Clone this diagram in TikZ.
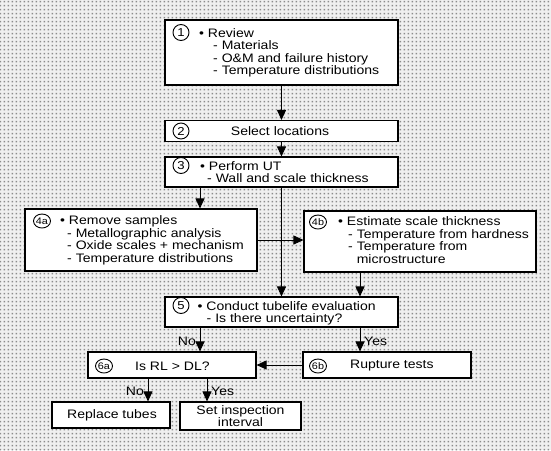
\documentclass[tikz,border=0pt]{standalone}
\usepackage{fontspec}
\setmainfont{Liberation Sans}[FakeStretch=1.14]
\usetikzlibrary{arrows.meta,shapes.geometric,patterns.meta}
\tikzdeclarepattern{
  name=halftone,
  bottom left={(0pt,0pt)},
  top right={(4pt,4pt)},
  tile size={(4pt,4pt)},
  code={\fill (0.8pt,0.8pt) rectangle (2.6pt,2.6pt);}
}
\begin{document}
\begin{tikzpicture}[x=1pt,y=-1pt,
  box/.style={draw, line width=1.1pt, fill=white, inner sep=0pt},
  num/.style={draw, circle, line width=0.9pt, inner sep=0pt, minimum size=16pt, font=\fontsize{11.5}{11.5}\selectfont},
  numov/.style={draw, ellipse, line width=0.9pt, inner sep=0pt, minimum width=17pt, minimum height=14pt, font=\fontsize{9.5}{9.5}\selectfont},
  txt/.style={align=left, inner sep=0pt, anchor=north west, font=\fontsize{12.3}{12.6}\selectfont},
  ctxt/.style={align=center, inner sep=0pt, font=\fontsize{12.3}{12.6}\selectfont},
  arr/.style={line width=0.9pt, -{Triangle[length=10pt,width=9pt]}},
  lab/.style={inner sep=1pt, font=\fontsize{12.3}{12.6}\selectfont}]
\useasboundingbox (0,0) rectangle (551,450);
\fill[black!6] (0,0) rectangle (551,450);
\fill[pattern=halftone, pattern color=black!45] (0,0) rectangle (551,450);

% boxes
\node[box, minimum width=233pt, minimum height=65pt] (b1) at (281.5,52.5) {};
\node[box, minimum width=233pt, minimum height=21pt] (b2) at (281.5,131) {};
\node[box, minimum width=233pt, minimum height=30pt] (b3) at (281.5,172) {};
\node[box, minimum width=232pt, minimum height=62pt] (b4a) at (141,240) {};
\node[box, minimum width=232pt, minimum height=61pt] (b4b) at (420,241.5) {};
\node[box, minimum width=233pt, minimum height=30pt] (b5) at (281.5,312) {};
\node[box, minimum width=168pt, minimum height=26pt] (b6a) at (172,365) {};
\node[box, minimum width=168pt, minimum height=26pt] (b6b) at (387,365) {};
\node[box, minimum width=118pt, minimum height=26pt] (rep) at (111,415) {};
\node[box, minimum width=121pt, minimum height=28pt] (set) at (240.5,416) {};

% numbers
\node[num] (c1) at (181,32.5) {1};
\node[num] (c2) at (181,131) {2};
\node[num] (c3) at (181,165.5) {3};
\node[numov] (c4a) at (42,221) {4a};
\node[numov] (c4b) at (318,222) {4b};
\node[num] (c5) at (181,305.5) {5};
\node[numov] (c6a) at (104,366) {6a};
\node[numov] (c6b) at (318,366) {6b};

% texts
\node[txt] (t1) at (199,28) {\textbullet\ Review\\\hspace*{14pt}- Materials\\\hspace*{14pt}- O\&M and failure history\\\hspace*{14pt}- Temperature distributions};
\node[ctxt] (t2) at (280,131) {Select locations};
\node[txt] (t3) at (200,161) {\textbullet\ Perform UT\\\hspace*{7pt}- Wall and scale thickness};
\node[txt] (t4a) at (60,215.5) {\textbullet\ Remove samples\\\hspace*{7pt}- Metallographic analysis\\\hspace*{7pt}- Oxide scales + mechanism\\\hspace*{7pt}- Temperature distributions};
\node[txt] (t4b) at (338,216.5) {\textbullet\ Estimate scale thickness\\\hspace*{10pt}- Temperature from hardness\\\hspace*{10pt}- Temperature from\\\hspace*{10pt}\hphantom{- }microstructure};
\node[txt] (t5) at (197.5,301) {\textbullet\ Conduct tubelife evaluation\\\hspace*{9pt}- Is there uncertainty?};
\node[ctxt, anchor=west] (t6a) at (135,366) {Is RL > DL?};
\node[ctxt, anchor=west] (t6b) at (350,366) {Rupture tests};
\node[ctxt] (trep) at (112,415) {Replace tubes};
\node[ctxt] (tset) at (240.5,416) {Set inspection\\interval};

% connectors
\draw[arr] (b1) -- (b2);
\draw[arr] (b2) -- (b3);
\draw[arr] (b3.south -| 200,0) -- (b4a.north -| 200,0);
\draw[arr] (b3) -- (b5);
\draw[arr] (b4a.east |- 0,240) -- (b4b.west |- 0,240);
\draw[arr] (b4b.south -| 360,0) -- (b5.north -| 360,0);
\draw[arr] (b5.south -| 200,0) -- (b6a.north -| 200,0);
\draw[arr] (b5.south -| 360,0) -- (b6b.north -| 360,0);
\draw[arr] (b6b) -- (b6a);
\draw[arr] (b6a.south -| 148,0) -- (rep.north -| 148,0);
\draw[arr] (b6a.south -| 207,0) -- (set.north -| 207,0);

% labels
\node[lab, anchor=east] (no1) at (197,341) {No};
\node[lab, anchor=west] (yes1) at (363,341) {Yes};
\node[lab, anchor=east] (no2) at (145,391) {No};
\node[lab, anchor=west] (yes2) at (210,391) {Yes};
\end{tikzpicture}
\end{document}
